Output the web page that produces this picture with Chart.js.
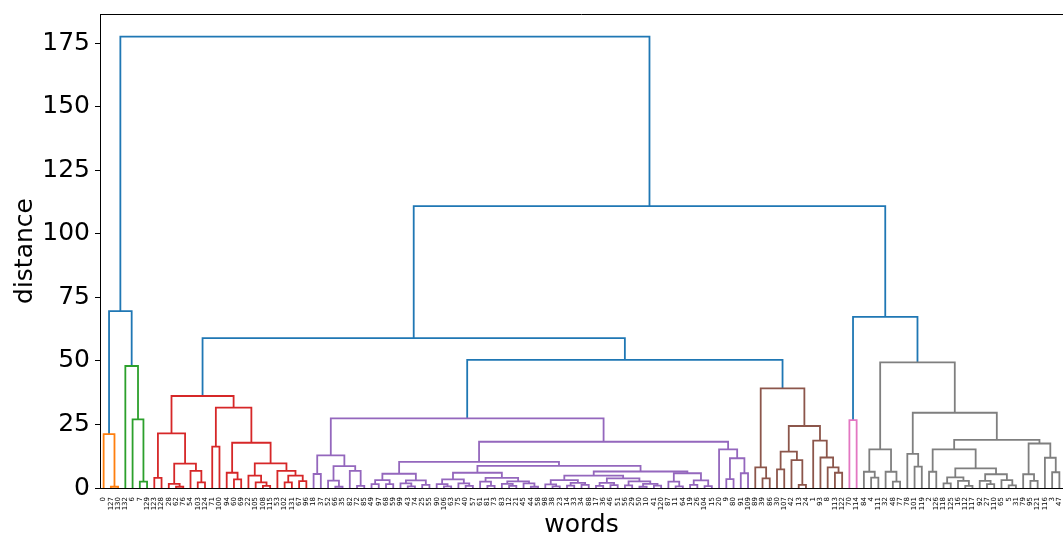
<!DOCTYPE html>
<html><head><meta charset="utf-8">
<script src="https://cdn.jsdelivr.net/npm/chart.js@4"></script>
<style>html,body{margin:0;padding:0;background:#fff;overflow:hidden}canvas{display:block}</style>
</head><body>
<canvas id="c" width="1063" height="535"></canvas>
<script>
// Dendrogram data: node = [left, right, mergeDistance], leaf = word index
const orangeTree = [0, [127, 130, 0.5], 21.2];
const greenTree = [132, [6, [7, 129, 2.5], 27], 48];
const redTree = [
  [[123, 128, 4], [[28, [62, 76, 0.5], 1.6], [54, [103, 124, 2.2], 6.7], 9.6], 21.5],
  [[71, 100, 16.3], [[94, [60, 69, 3.4], 6], [[22, [105, [108, 115, 0.8], 2.2], 4.9], [53, [[102, 131, 2.2], [67, 96, 2.7], 4.9], 6.7], 9.7], 17.8], 31.6],
  36.2];
const purpleLeft = [[18, 37, 5.5], [[52, [66, 35, 0.5], 2.9], [82, [72, 85, 0.8], 6.7], 8.6], 12.8];
const purpleD = [[[49, 97, 1.5], [68, 59, 1.5], 3.1], [[99, [43, 74, 0.6], 1.8], [25, 55, 1.2], 3.0], 5.6];
const purpleF = [[[90, [106, 63, 0.6], 1.5], [75, [40, 57, 0.8], 1.8], 3.4],
  [[61, [81, 73, 0.8], 2.5], [[83, [12, 21, 0.8], 1.6], [45, [44, 58, 0.5], 1.8], 2.6], 4.0], 6.0];
const purpleG = [[[[98, [38, 23, 0.6], 1.4], [[14, 33, 0.9], [34, 88, 1.2], 2.0], 3.1],
  [[[17, 36, 0.8], [46, 51, 1.1], 2.0], [[56, 29, 1.0], [[50, 10, 0.5], [41, 120, 0.9], 1.6], 2.6], 3.8], 4.9],
  [[87, [11, 64, 0.6], 2.5], [[19, 26, 1.2], [104, 15, 0.7], 3.0], 5.8], 6.5];
const purpleC = [20, [[9, 80, 3.5], [91, 109, 5.8], 11.7], 15.2];
const purpleTree = [purpleLeft, [[purpleD, [purpleF, purpleG, 8.7], 10.3], purpleC, 18.2], 27.4];
const brownTree = [[89, [39, 86, 3.8], 8.1],
  [[[30, 107, 7.3], [42, [13, 24, 1.2], 11], 14.3], [1, [93, [8, [113, 122, 6], 8.1], 12], 18.6], 24.4], 39.2];
const pinkTree = [70, 114, 26.7];
const grayTree = [[[84, [4, 111, 4.1], 6.4], [32, [48, 77, 2.5], 6.4], 15.2],
  [[78, [101, 119, 8.4], 13.4],
   [[[2, 126, 6.4], [[[118, 125, 1.8], [16, [112, 117, 0.8], 2.8], 4.2], [[92, [27, 110, 1.5], 2.8], [65, [5, 31, 1.0], 3.1], 5.4], 7.7], 15.2],
    [[79, [95, 121, 2.8], 5.4], [116, [3, 47, 6.2], 11.9], 17.5], 18.9], 29.6], 49.4];
const topTree = [['orange', 'green', 69.6], [['red', ['purple', 'brown', 50.4], 59], ['pink', 'gray', 67.3], 110.9], 177.6];
const yTickValues = [0, 25, 50, 75, 100, 125, 150, 175];

const clusterTrees = {orange: orangeTree, green: greenTree, red: redTree, purple: purpleTree, brown: brownTree, pink: pinkTree, gray: grayTree};
const clusterColors = {orange: '#ff7f0e', green: '#2ca02c', red: '#d62728', purple: '#9467bd', brown: '#8c564b', pink: '#e377c2', gray: '#7f7f7f'};
const aboveColor = '#1f77b4';

const leafLabels = [], leafPositions = [], links = [];
function walk(node, color) {
  if (typeof node === 'string') return walk(clusterTrees[node], clusterColors[node]);
  if (typeof node === 'number') {
    const x = 5 + 10 * leafLabels.length;
    leafLabels.push(String(node)); leafPositions.push(x);
    return {x: x, y: 0};
  }
  const a = walk(node[0], color), b = walk(node[1], color), h = node[2];
  links.push({color: color, pts: [{x: a.x, y: a.y}, {x: a.x, y: h}, {x: b.x, y: h}, {x: b.x, y: b.y}]});
  return {x: (a.x + b.x) / 2, y: h};
}
walk(topTree, aboveColor);

Chart.defaults.font.family = 'DejaVu Sans';
const topSpine = {
  id: 'topSpine',
  afterDraw(chart) {
    const {ctx, chartArea} = chart;
    ctx.save(); ctx.strokeStyle = '#000'; ctx.lineWidth = 1;
    ctx.beginPath(); ctx.moveTo(chartArea.left, chartArea.top + 0.5); ctx.lineTo(chartArea.right, chartArea.top + 0.5); ctx.stroke();
    ctx.restore();
  }
};

new Chart(document.getElementById('c'), {
  type: 'scatter',
  data: {
    datasets: links.map(l => ({
      data: l.pts, showLine: true, borderColor: l.color, backgroundColor: l.color,
      borderWidth: 1.8, pointRadius: 0, pointHoverRadius: 0, tension: 0, fill: false
    }))
  },
  options: {
    responsive: false, animation: false, events: [],
    layout: {padding: {top: 14, right: 0, left: 0, bottom: 0}},
    plugins: {legend: {display: false}, tooltip: {enabled: false}},
    scales: {
      x: {
        type: 'linear', min: 0, max: 10 * leafLabels.length,
        afterBuildTicks: s => { s.ticks = leafPositions.map(v => ({value: v})); },
        afterFit: s => { s.height = 47; s.paddingLeft = 0; s.paddingRight = 0; },
        ticks: {autoSkip: false, minRotation: 90, maxRotation: 90, color: '#000', padding: 9,
          font: {size: 7}, callback: (v, i) => leafLabels[i]},
        grid: {display: false, drawTicks: false},
        border: {display: true, color: '#000', width: 1},
        title: {display: true, text: 'words', color: '#000', font: {size: 25, lineHeight: 1}, padding: {top: 0, bottom: -3}}
      },
      y: {
        type: 'linear', min: 0, max: topTree[2] * 1.05,
        afterBuildTicks: s => { s.ticks = yTickValues.map(v => ({value: v})); },
        afterFit: s => { s.width = 100; s.paddingTop = 0; s.paddingBottom = 0; },
        ticks: {color: '#000', padding: 5, font: {size: 25}},
        grid: {drawOnChartArea: false, drawTicks: true, tickLength: 5, color: '#000', tickColor: '#000'},
        border: {display: true, color: '#000', width: 1},
        title: {display: true, text: 'distance', color: '#000', font: {size: 25, lineHeight: 1}, padding: {top: 13, bottom: 0}}
      }
    }
  },
  plugins: [topSpine]
});
</script></body></html>
